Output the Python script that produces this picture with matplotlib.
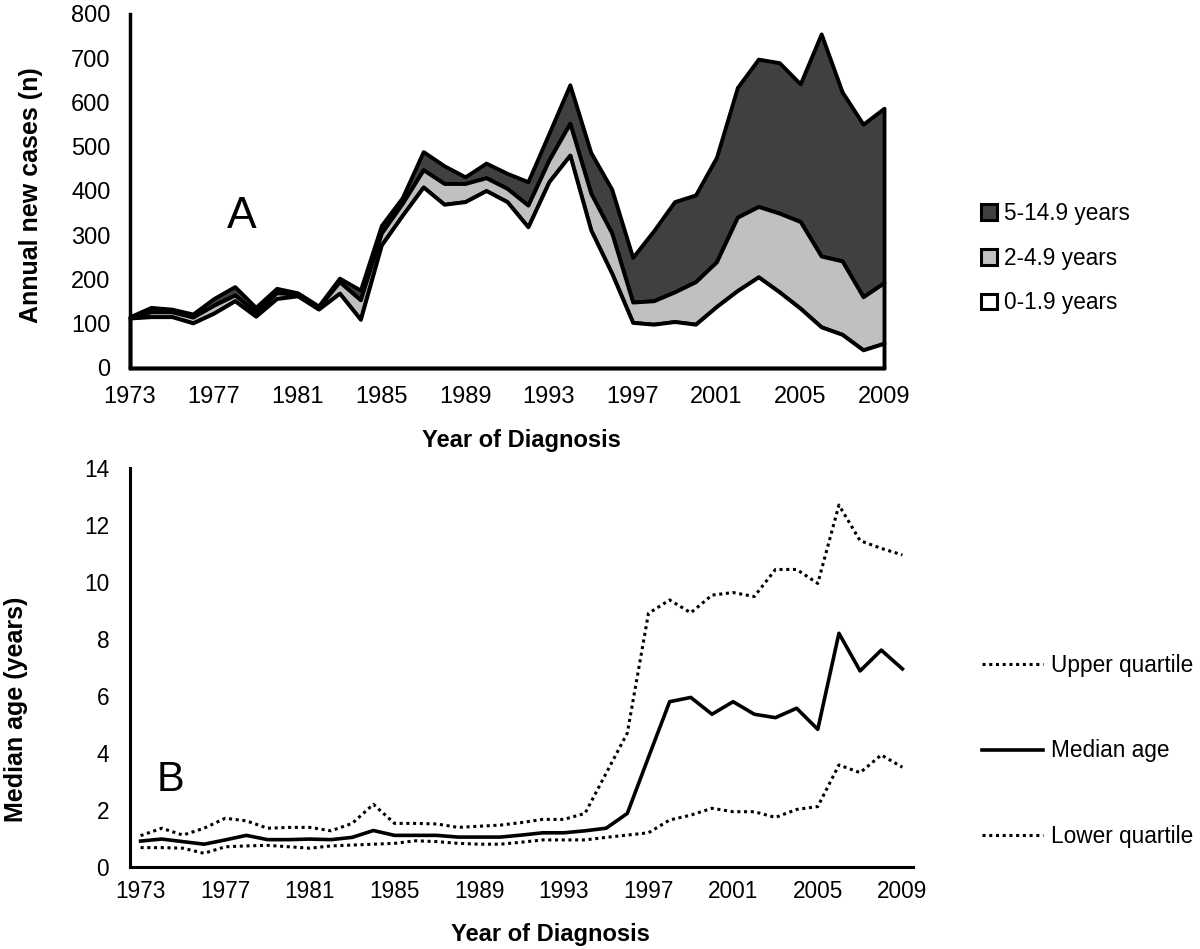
import matplotlib
matplotlib.use('Agg')
import matplotlib.pyplot as plt
from matplotlib.patches import Patch
from matplotlib.lines import Line2D
import numpy as np

plt.rcParams['font.family'] = ['Liberation Sans', 'DejaVu Sans']

# ---------------- data ----------------
years = list(range(1973, 2010))
tick_years = list(range(1973, 2010, 4))

# Panel A: annual new cases by age group (stacked)
cases_0_1_9 = [113, 116, 116, 102, 124, 152, 117, 157, 163, 133, 169, 110, 278, 345, 409, 370,
               376, 401, 376, 319, 421, 481, 312, 214, 103, 99, 105, 99, 139, 175, 206, 172,
               135, 93, 76, 41, 56]
cases_2_4_9 = [2, 11, 11, 13, 18, 13, 10, 13, 4, 4, 26, 44, 27, 27, 39, 47,
               41, 29, 30, 49, 49, 72, 83, 91, 46, 53, 67, 96, 101, 166, 159, 178,
               196, 160, 166, 120, 137]
cases_5_14_9 = [1, 10, 6, 7, 15, 19, 10, 10, 3, 3, 8, 22, 17, 13, 41, 40,
                15, 33, 34, 53, 60, 87, 92, 99, 101, 158, 204, 196, 236, 293, 333, 340,
                311, 502, 382, 390, 394]
age_labels = ['5-14.9 years', '2-4.9 years', '0-1.9 years']

# Panel B: age at diagnosis
median_age = [0.91, 0.98, 0.89, 0.80, 0.95, 1.11, 0.96, 0.96, 0.98, 0.96, 1.04, 1.28, 1.11,
              1.11, 1.11, 1.05, 1.05, 1.05, 1.12, 1.20, 1.20, 1.27, 1.36, 1.88, 3.85, 5.80,
              5.95, 5.36, 5.80, 5.36, 5.24, 5.57, 4.83, 8.20, 6.88, 7.61, 6.95]
upper_quartile = [1.10, 1.36, 1.12, 1.36, 1.71, 1.62, 1.36, 1.39, 1.39, 1.27, 1.53, 2.20, 1.53,
                  1.53, 1.51, 1.39, 1.43, 1.47, 1.56, 1.67, 1.67, 1.88, 3.29, 4.70, 8.90, 9.37,
                  8.92, 9.54, 9.63, 9.49, 10.44, 10.44, 9.95, 12.70, 11.45, 11.18, 10.95]
lower_quartile = [0.68, 0.68, 0.66, 0.48, 0.71, 0.74, 0.76, 0.71, 0.66, 0.74, 0.77, 0.80, 0.83,
                  0.92, 0.89, 0.83, 0.80, 0.80, 0.87, 0.95, 0.95, 0.95, 1.04, 1.12, 1.20, 1.65,
                  1.82, 2.06, 1.94, 1.94, 1.74, 2.02, 2.12, 3.58, 3.31, 3.93, 3.50]

DARK = '#404040'
LIGHT = '#c0c0c0'

W, H = 1200, 949
fig = plt.figure(figsize=(W / 100, H / 100), dpi=100)


def rect(l, r, t, b):
    return [l / W, 1 - b / H, (r - l) / W, (b - t) / H]


# ---------------- Panel A ----------------
ax1 = fig.add_axes(rect(130, 884, 14, 368))
y0 = np.array(cases_0_1_9)
y1 = y0 + np.array(cases_2_4_9)
y2 = y1 + np.array(cases_5_14_9)
ax1.fill_between(years, y1, y2, facecolor=DARK, edgecolor='black', linewidth=2.8, clip_on=False)
ax1.fill_between(years, y0, y1, facecolor=LIGHT, edgecolor='black', linewidth=2.8, clip_on=False)
ax1.fill_between(years, 0, y0, facecolor='white', edgecolor='black', linewidth=2.8, clip_on=False)
ax1.set_xlim(1973, 2009)
ax1.set_ylim(0, 800)
ax1.set_yticks(range(0, 801, 100))
ax1.set_xticks(tick_years)
for s in ['top', 'right']:
    ax1.spines[s].set_visible(False)
for s in ['left', 'bottom']:
    ax1.spines[s].set_linewidth(2.5)
ax1.tick_params(axis='both', length=0, labelsize=17)
ax1.tick_params(axis='y', pad=14)
ax1.tick_params(axis='x', pad=13)
fig.text(31 / W, 1 - 195 / H, 'Annual new cases (n)', rotation=90, ha='center', va='center',
         fontsize=18, fontweight='bold')
fig.text(521 / W, 1 - 440 / H, 'Year of Diagnosis', ha='center', va='center',
         fontsize=17, fontweight='bold')
fig.text(242 / W, 1 - 217 / H, 'A', ha='center', va='center', fontsize=32)

hA = [Patch(facecolor=DARK, edgecolor='black', linewidth=2.2, label=age_labels[0]),
      Patch(facecolor=LIGHT, edgecolor='black', linewidth=2.2, label=age_labels[1]),
      Patch(facecolor='white', edgecolor='black', linewidth=2.2, label=age_labels[2])]
fig.legend(handles=hA, loc='center left', bbox_to_anchor=(981 / W, 1 - 258 / H), frameon=False,
           fontsize=16.3, handlelength=0.7, handleheight=0.7, handletextpad=0.3,
           labelspacing=0.97, borderpad=0, borderaxespad=0)

# ---------------- Panel B ----------------
ax2 = fig.add_axes(rect(130, 913, 468, 867))
dot = (0, (1, 1.2))
ax2.plot(years, upper_quartile, color='black', linewidth=2.2, linestyle=dot)
ax2.plot(years, median_age, color='black', linewidth=2.6)
ax2.plot(years, lower_quartile, color='black', linewidth=2.2, linestyle=dot)
ax2.set_xlim(1972.5, 2009.5)
ax2.set_ylim(0, 14)
ax2.set_yticks(range(0, 15, 2))
ax2.set_xticks(tick_years)
for s in ['top', 'right']:
    ax2.spines[s].set_visible(False)
for s in ['left', 'bottom']:
    ax2.spines[s].set_linewidth(2.2)
ax2.tick_params(axis='both', length=0, labelsize=16.3)
ax2.tick_params(axis='y', pad=15)
ax2.tick_params(axis='x', pad=9)
fig.text(16 / W, 1 - 709 / H, 'Median age (years)', rotation=90, ha='center', va='center',
         fontsize=18, fontweight='bold')
fig.text(550 / W, 1 - 935 / H, 'Year of Diagnosis', ha='center', va='center',
         fontsize=17, fontweight='bold')
fig.text(171 / W, 1 - 780 / H, 'B', ha='center', va='center', fontsize=30)

hB = [Line2D([], [], color='black', linewidth=2.2, linestyle=dot, label='Upper quartile'),
      Line2D([], [], color='black', linewidth=2.6, label='Median age'),
      Line2D([], [], color='black', linewidth=2.2, linestyle=dot, label='Lower quartile')]
fig.legend(handles=hB, loc='center left', bbox_to_anchor=(982 / W, 1 - 751 / H), frameon=False,
           fontsize=16.3, handlelength=2.7, handletextpad=0.35, labelspacing=2.75,
           borderpad=0, borderaxespad=0)

fig.savefig('out.png', dpi=100)
